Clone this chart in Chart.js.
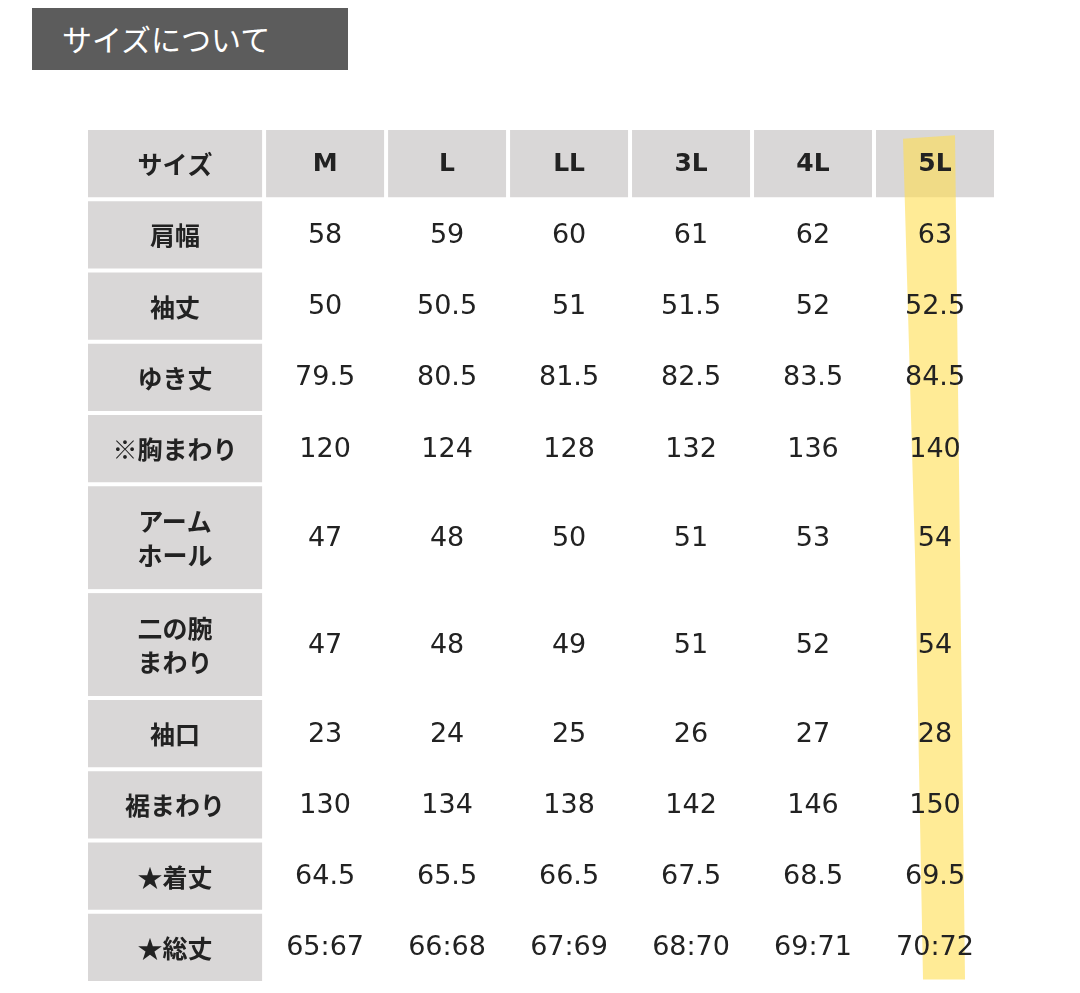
<!DOCTYPE html>
<html><head><meta charset="utf-8">
<script src="https://cdn.jsdelivr.net/npm/chart.js@4"></script>
<style>
body{margin:0;background:#fff;}
#t{position:absolute;left:32px;top:8px;width:316px;height:62px;background:#5c5c5c;color:#fff;font:30px "Noto Sans CJK JP";line-height:60px;padding-left:30px;box-sizing:border-box;}
canvas{position:absolute;left:0;top:0;}
</style></head><body>
<canvas id="c" width="1080" height="993"></canvas>
<div id="t">サイズについて</div>
<script>
const sizes=["M","L","LL","3L","4L","5L"];
const rowLabels=["肩幅","袖丈","ゆき丈","※胸まわり","アーム\nホール","二の腕\nまわり","袖口","裾まわり","★着丈","★総丈"];
const rowUnits=[1,1,1,1,1.5,1.5,1,1,1,1];
const values=[
["58","59","60","61","62","63"],
["50","50.5","51","51.5","52","52.5"],
["79.5","80.5","81.5","82.5","83.5","84.5"],
["120","124","128","132","136","140"],
["47","48","50","51","53","54"],
["47","48","49","51","52","54"],
["23","24","25","26","27","28"],
["130","134","138","142","146","150"],
["64.5","65.5","66.5","67.5","68.5","69.5"],
["65:67","66:68","67:69","68:70","69:71","70:72"]];
const colUnits=[1.46,1,1,1,1,1,1];
const headerLabel="サイズ";
const highlightCol=5;

const colStart=[0];colUnits.forEach((u,i)=>colStart.push(colStart[i]+u));
const rowStart=[0,1];rowUnits.forEach((u,i)=>rowStart.push(rowStart[i+1]+u));
const totX=colStart[colStart.length-1], totY=rowStart[rowStart.length-1];

const tablePlugin={id:'tbl',afterDatasetsDraw(ch){
 const ctx=ch.ctx,x=ch.scales.x,y=ch.scales.y,g=2;
 function cell(c0,c1,r0,r1,fill){
  const X0=x.getPixelForValue(c0)+g,X1=x.getPixelForValue(c1)-g,Y0=y.getPixelForValue(r0)+g,Y1=y.getPixelForValue(r1)-g;
  if(fill){ctx.fillStyle=fill;ctx.fillRect(X0,Y0,X1-X0,Y1-Y0);}
  return [(X0+X1)/2,(Y0+Y1)/2];
 }
 function text(s,p,font){
  ctx.fillStyle='#222';ctx.font=font;ctx.textAlign='center';ctx.textBaseline='middle';
  const ls=s.split('\n');const lh=34;
  ls.forEach((l,i)=>ctx.fillText(l,p[0],p[1]+(i-(ls.length-1)/2)*lh+1));
 }
 const gray='#d9d7d7',bf='bold 25px "Noto Sans CJK JP"',vf='27px "DejaVu Sans"';
 const centers=[];
 text(headerLabel,cell(colStart[0],colStart[1],0,1,gray),bf);
 sizes.forEach((s,i)=>centers.push(cell(colStart[i+1],colStart[i+2],0,1,gray)));
 const vc=[];
 rowLabels.forEach((l,r)=>{
  text(l,cell(colStart[0],colStart[1],rowStart[r+1],rowStart[r+2],gray),bf);
  vc.push(sizes.map((s,i)=>cell(colStart[i+1],colStart[i+2],rowStart[r+1],rowStart[r+2],null)));
 });
 // highlight stroke
 const hx=x.getPixelForValue(colStart[highlightCol+1]+0.5);
 ctx.fillStyle='rgba(255,222,80,0.6)';
 ctx.beginPath();
 ctx.moveTo(hx-32,y.getPixelForValue(0.15));ctx.lineTo(hx+20,y.getPixelForValue(0.1));
 ctx.lineTo(hx+25,y.getPixelForValue(6));ctx.lineTo(hx+30,y.getPixelForValue(totY-0.05));
 ctx.lineTo(hx-12,y.getPixelForValue(totY-0.05));ctx.lineTo(hx-20,y.getPixelForValue(6));
 ctx.closePath();ctx.fill();
 sizes.forEach((s,i)=>text(s,centers[i],'bold 25px "DejaVu Sans"'));
 values.forEach((row,r)=>row.forEach((v,i)=>text(v,vc[r][i],vf)));
}};

new Chart(document.getElementById('c'),{type:'scatter',
 data:{datasets:[{data:[],pointRadius:0}]},
 options:{responsive:false,animation:false,events:[],
  layout:{padding:{left:86,right:84,top:128,bottom:10}},
  plugins:{legend:{display:false},tooltip:{enabled:false}},
  scales:{x:{type:'linear',min:0,max:totX,display:false},
          y:{type:'linear',min:0,max:totY,reverse:true,display:false}}},
 plugins:[tablePlugin]});
</script></body></html>
